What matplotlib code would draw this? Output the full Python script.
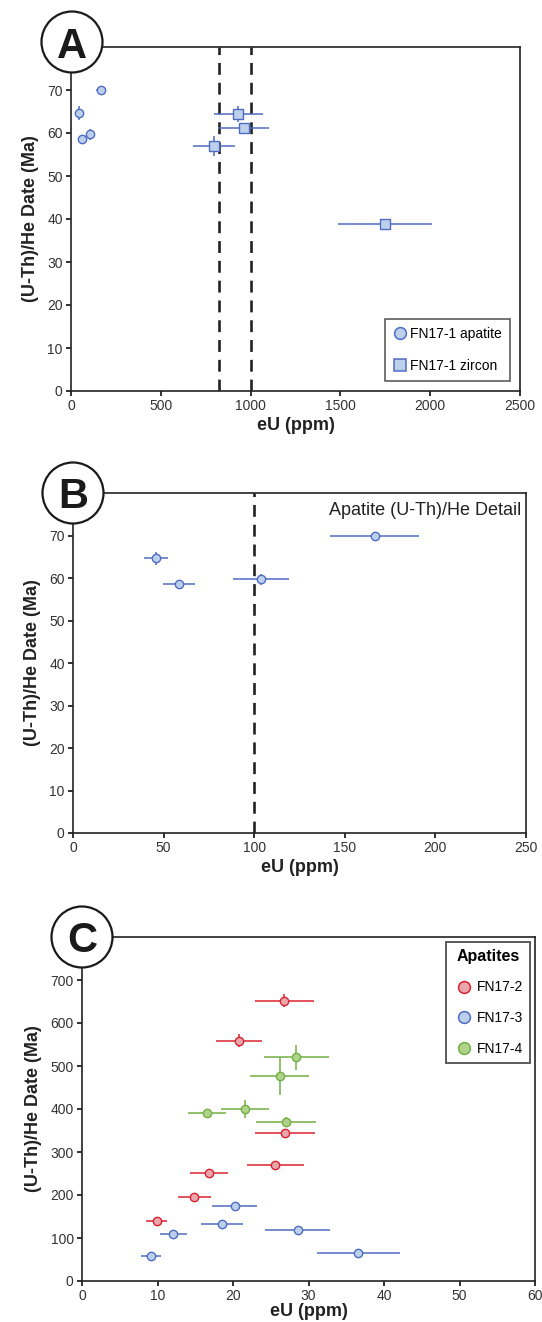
import matplotlib
matplotlib.use("Agg")
import matplotlib.pyplot as plt
from matplotlib.patches import Ellipse
from matplotlib.lines import Line2D

plt.rcParams['font.family'] = ['Liberation Sans', 'DejaVu Sans']

# ---- panel A / B : FN17-1 ----
ap_eu = [45.9, 58.5, 103.8, 166.5]
ap_eu_err = [6.7, 8.6, 15.4, 24.7]
ap_date = [64.6, 58.6, 59.7, 69.9]
ap_date_err = [1.6, 0.8, 1.3, 0.8]

zr_eu = [932, 961, 795, 1748]
zr_eu_err = [138, 142, 118, 262]
zr_date = [64.4, 61.2, 56.9, 38.8]
zr_date_err = [1.8, 0.8, 2.3, 0.5]

dash_a = [825, 1000]
dash_b = [100]

# ---- panel C : apatites ----
fn2_eu = [26.8, 20.8, 26.85, 25.6, 16.8, 14.9, 9.9]
fn2_eu_err = [3.95, 3.1, 4.0, 3.8, 2.5, 2.15, 1.4]
fn2_date = [652, 559, 345, 269, 252, 196, 140]
fn2_date_err = [15, 15, 8, 6, 6, 6, 6]

fn3_eu = [20.2, 18.5, 28.6, 12.1, 9.1, 36.6]
fn3_eu_err = [3.0, 2.8, 4.3, 1.8, 1.3, 5.5]
fn3_date = [174, 133, 118, 109, 58, 64]
fn3_date_err = [5, 5, 5, 5, 4, 4]

fn4_eu = [28.4, 26.2, 21.6, 16.6, 27.0]
fn4_eu_err = [4.25, 3.9, 3.2, 2.5, 4.0]
fn4_date = [520, 476, 400, 390, 370]
fn4_date_err = [30, 44, 22, 6, 12]

BLUE_F, BLUE_E = '#bcd0ec', '#4f6cc4'
RED_F, RED_E = '#eaa6ad', '#d8232f'
GRN_F, GRN_E = '#b0d28a', '#72b043'

W, H = 542, 1322
fig = plt.figure(figsize=(W / 100, H / 100), dpi=100)


def make_ax(l, t, r, b, xpad=2.5):
    ax = fig.add_axes([l / W, 1 - b / H, (r - l) / W, (b - t) / H])
    for s in ax.spines.values():
        s.set_color('#222222')
        s.set_linewidth(1.2)
    ax.tick_params(direction='out', length=3.5, width=1.3, colors='#222222',
                   labelsize=10, labelcolor='#333333', pad=2.5,
                   top=False, right=False)
    ax.set_xlabel('eU (ppm)', fontsize=13, fontweight='bold', color='#222222', labelpad=xpad)
    ax.set_ylabel('(U-Th)/He Date (Ma)', fontsize=13, fontweight='bold', color='#222222', labelpad=6)
    return ax


def badge(cx, cy, letter):
    e = Ellipse((cx / W, 1 - cy / H), 61 / W, 61 / H, transform=fig.transFigure,
                facecolor='white', edgecolor='#1a1a1a', lw=1.6, zorder=10)
    fig.add_artist(e)
    fig.text(cx / W, 1 - cy / H, letter, fontsize=30, fontweight='bold',
             ha='center', va='center_baseline', color='#1a1a1a', zorder=11)


def pts(ax, x, xe, y, ye, fc, ec, marker='o', ms=6):
    ax.errorbar(x, y, xerr=xe, yerr=ye, fmt=marker, ms=ms, mfc=fc, mec=ec, mew=1.0,
                ecolor=ec, elinewidth=1.1, capsize=0, zorder=5)


def key(fc, ec, marker='o'):
    return Line2D([], [], ls='none', marker=marker, ms=8.5, mfc=fc, mec=ec, mew=1.1)


# ---------------- A ----------------
axA = make_ax(71, 47, 520, 391)
for d in dash_a:
    axA.axvline(d, color='#222222', lw=1.9, ls=(0, (4.5, 3)), zorder=2)
pts(axA, ap_eu, ap_eu_err, ap_date, ap_date_err, BLUE_F, BLUE_E)
pts(axA, zr_eu, zr_eu_err, zr_date, zr_date_err, BLUE_F, BLUE_E, marker='s', ms=6.5)
axA.set_xlim(0, 2500)
axA.set_ylim(0, 80)
axA.set_xticks(range(0, 2501, 500))
axA.set_yticks(range(0, 71, 10))
leg = axA.legend([key(BLUE_F, BLUE_E), key(BLUE_F, BLUE_E, 's')],
                 ['FN17-1 apatite', 'FN17-1 zircon'],
                 loc='lower right', fontsize=10, frameon=True, fancybox=False,
                 edgecolor='#222222', labelspacing=1.3, handlelength=1.0,
                 handletextpad=0.2, borderpad=0.6, borderaxespad=0.7)
leg.get_frame().set_linewidth(1.1)
badge(72, 42, 'A')

# ---------------- B ----------------
axB = make_ax(73, 493, 526, 833)
for d in dash_b:
    axB.axvline(d, color='#222222', lw=1.9, ls=(0, (4.5, 3)), zorder=2)
pts(axB, ap_eu, ap_eu_err, ap_date, ap_date_err, BLUE_F, BLUE_E)
axB.set_xlim(0, 250)
axB.set_ylim(0, 80)
axB.set_xticks(range(0, 251, 50))
axB.set_yticks(range(0, 71, 10))
axB.text(0.99, 0.975, 'Apatite (U-Th)/He Detail', transform=axB.transAxes,
         ha='right', va='top', fontsize=13, color='#222222')
badge(73, 493, 'B')

# ---------------- C ----------------
axC = make_ax(82, 937, 535, 1281, xpad=0)
pts(axC, fn2_eu, fn2_eu_err, fn2_date, fn2_date_err, RED_F, RED_E)
pts(axC, fn3_eu, fn3_eu_err, fn3_date, fn3_date_err, BLUE_F, BLUE_E)
pts(axC, fn4_eu, fn4_eu_err, fn4_date, fn4_date_err, GRN_F, GRN_E)
axC.set_xlim(0, 60)
axC.set_ylim(0, 800)
axC.set_xticks(range(0, 61, 10))
axC.set_yticks(range(0, 701, 100))
legC = axC.legend([key(RED_F, RED_E), key(BLUE_F, BLUE_E), key(GRN_F, GRN_E)],
                  ['FN17-2', 'FN17-3', 'FN17-4'],
                  loc='upper right', fontsize=10, title='Apatites', frameon=True,
                  fancybox=False, edgecolor='#222222', labelspacing=1.2,
                  handlelength=1.6, handletextpad=0.15, borderpad=0.5,
                  borderaxespad=0.35)
legC.get_title().set_fontweight('bold')
legC.get_title().set_fontsize(11.5)
legC.get_frame().set_linewidth(1.3)
badge(82, 937, 'C')

fig.savefig('out.png', dpi=100)
